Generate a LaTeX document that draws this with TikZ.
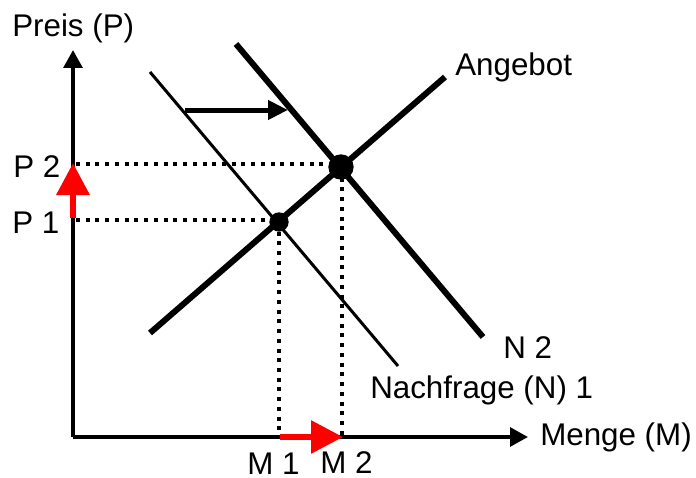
\documentclass[tikz,border=0pt]{standalone}
\usepackage{fontspec}
\setmainfont{Liberation Sans}
\usetikzlibrary{arrows.meta}
\begin{document}
\begin{tikzpicture}[x=0.75pt,y=-0.75pt,
  lbl/.style={anchor=base west,inner sep=0pt,font=\fontsize{23.5}{27}\selectfont},
  axis/.style={line width=3pt,line join=miter,-{Triangle[length=13.5pt,width=14pt]}},
  thickline/.style={line width=4.5pt},
  thinline/.style={line width=2.25pt},
  dots/.style={line width=3pt,dash pattern=on 3pt off 4.3pt},
  redarrow/.style={red,-{Triangle[length=24pt,width=24pt]}},
  eqdot/.style={circle,fill=black,inner sep=0pt}]
\useasboundingbox (0,0) rectangle (696,478);
% coordinates
\coordinate (O) at (73,437);
\coordinate (ytip) at (73,50);
\coordinate (xtip) at (528,437);
\coordinate (S0) at (150,333);
\coordinate (S1) at (445,77);
\coordinate (Na) at (150,72);
\coordinate (Nb) at (398,366);
\coordinate (Ma) at (236,44);
\coordinate (Mb) at (483,337);
\coordinate (P1a) at (76,220);
\coordinate (P2a) at (76,164);
\coordinate (M1b) at (279,437);
\coordinate (M2b) at (342,437);
\coordinate (sh0) at (185,110);
\coordinate (sh1) at (288,110);
\coordinate (ry0) at (73,218);
\coordinate (ry1) at (73,163);
\coordinate (rx0) at (280,437);
\coordinate (rx1) at (343,437);
% dotted guide lines
\draw[dots] (P2a) -- (340,164);
\draw[dots] (P1a) -- (279,220);
\draw[dots] (279,222) -- (M1b);
\draw[dots] (342,168) -- (M2b);
% axes
\draw[axis] (O) -- (xtip);
\draw[axis] (O) -- (ytip);
% curves
\draw[thinline] (Na) -- (Nb);
\draw[thickline] (Ma) -- (Mb);
\draw[thickline] (S0) -- (S1);
% shift arrow
\draw[line width=3.75pt,-{Triangle[length=15pt,width=14pt]}] (sh0) -- (sh1);
% red arrows
\draw[redarrow,line width=5pt] (ry0) -- (ry1);
\draw[redarrow,line width=4.5pt] (rx0) -- (rx1);
% equilibrium points
\node[eqdot,minimum size=14.5pt] (E1) at (279,222) {};
\node[eqdot,minimum size=19pt] (E2) at (341,167) {};
% labels
\node[lbl] (tP) at (12,37) {Preis (P)};
\node[lbl] (tP2) at (13,177) {P 2};
\node[lbl] (tP1) at (12,233) {P 1};
\node[lbl] (tA) at (455,75) {Angebot};
\node[lbl] (tN2) at (503,358) {N 2};
\node[lbl] (tN1) at (370,398) {Nachfrage (N) 1};
\node[lbl] (tM) at (540,445) {Menge (M)};
\node[lbl] (tM1) at (247,474) {M 1};
\node[lbl] (tM2) at (320,473) {M 2};
\end{tikzpicture}
\end{document}
